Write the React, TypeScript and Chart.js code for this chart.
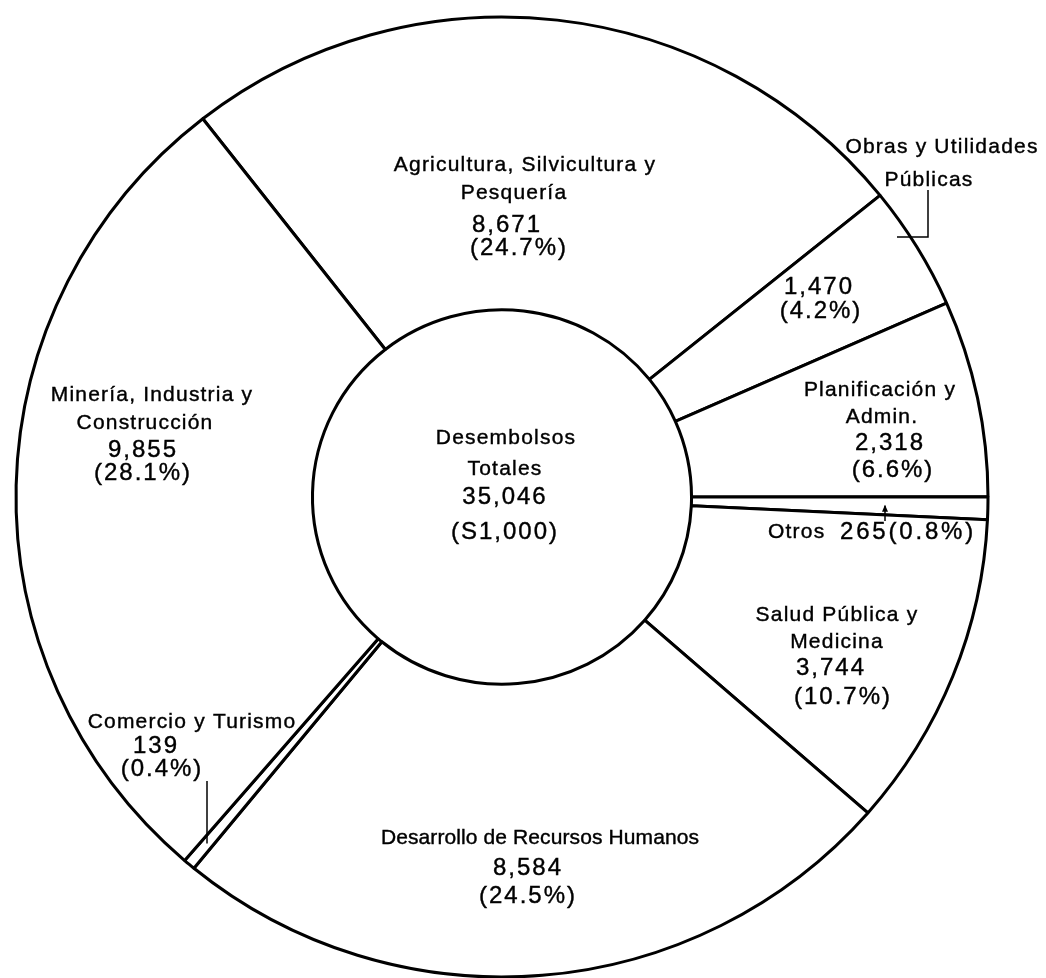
import { useEffect, useRef } from "react";
import { Chart, registerables } from "chart.js";

Chart.register(...registerables);

// ---- data ----
const categories = [
  "Agricultura, Silvicultura y Pesquería",
  "Obras y Utilidades Públicas",
  "Planificación y Admin.",
  "Otros",
  "Salud Pública y Medicina",
  "Desarrollo de Recursos Humanos",
  "Comercio y Turismo",
  "Minería, Industria y Construcción",
];
const nameLines = [
  ["Agricultura, Silvicultura y", "Pesquería"],
  ["Obras y Utilidades", "Públicas"],
  ["Planificación y", "Admin."],
  ["Otros"],
  ["Salud Pública y", "Medicina"],
  ["Desarrollo de Recursos Humanos"],
  ["Comercio y Turismo"],
  ["Minería, Industria y", "Construcción"],
];
const values = [8671, 1470, 2318, 265, 3744, 8584, 139, 9855];
const valueLabels = ["8,671", "1,470", "2,318", "265", "3,744", "8,584", "139", "9,855"];
const percentLabels = ["(24.7%)", "(4.2%)", "(6.6%)", "(0.8%)", "(10.7%)", "(24.5%)", "(0.4%)", "(28.1%)"];
const centerLines = ["Desembolsos", "Totales", "35,046", "(S1,000)"];

// ---- label layout (text line anchors: names..., value, percent) ----
const labelLayout: Record<number, [number, number][]> = {
  0: [[525, 165], [514, 193], [507, 225], [519, 248]],
  1: [[942, 147], [929, 180], [819, 287], [821, 311]],
  2: [[880, 390], [882, 417], [890, 443], [893, 470]],
  4: [[837, 615], [837, 642], [831, 668], [843, 697]],
  5: [[540, 838], [528, 868], [528, 896]],
  6: [[192, 722], [156, 746], [162, 769]],
  7: [[152, 395], [145, 423], [143, 450], [143, 473]],
};
const nameSpacing: Record<number, number> = { 5: 0.1 };
const centerLayout: [number, number][] = [[506, 438], [505, 469], [505, 497], [505, 532]];

const SX = 1.0125; // the printed ring is slightly wider than tall

const FONT_NAME = "21px 'Liberation Sans', Arial, sans-serif";
const FONT_NUM = "24px 'Liberation Sans', Arial, sans-serif";

function drawText(
  ctx: CanvasRenderingContext2D,
  text: string,
  x: number,
  y: number,
  num: boolean,
  align: CanvasTextAlign = "center",
  spacing?: number
) {
  ctx.font = num ? FONT_NUM : FONT_NAME;
  const sp = spacing !== undefined ? spacing : num ? 2 : 1.2;
  (ctx as any).letterSpacing = sp + "px";
  ctx.textAlign = align;
  ctx.textBaseline = "middle";
  ctx.lineWidth = 0.4;
  ctx.fillText(text, x, y);
  ctx.strokeText(text, x, y);
}

function rayYAtX(arc: any, x: number) {
  const p = arc.getProps(["x", "y", "startAngle", "endAngle"], true);
  const mid = (p.startAngle + p.endAngle) / 2;
  const xu = p.x + (x - p.x) / SX;
  const r = (xu - p.x) / Math.cos(mid);
  return p.y + r * Math.sin(mid);
}

const stretchPlugin = {
  id: "stretch",
  beforeDatasetsDraw(chart: any) {
    const ctx = chart.ctx;
    const cx = (chart.chartArea.left + chart.chartArea.right) / 2;
    ctx.save();
    ctx.translate(cx, 0);
    ctx.scale(SX, 1);
    ctx.translate(-cx, 0);
  },
  afterDatasetsDraw(chart: any) {
    chart.ctx.restore();
  },
};

const labelPlugin = {
  id: "sectorLabels",
  afterDraw(chart: any) {
    const ctx: CanvasRenderingContext2D = chart.ctx;
    const meta = chart.getDatasetMeta(0);
    ctx.save();
    ctx.fillStyle = "#000";
    ctx.strokeStyle = "#000";

    Object.keys(labelLayout).forEach((k) => {
      const i = Number(k);
      const pos = labelLayout[i];
      const lines = nameLines[i];
      lines.forEach((t, j) => drawText(ctx, t, pos[j][0], pos[j][1], false, "center", nameSpacing[i]));
      const vi = lines.length;
      drawText(ctx, valueLabels[i], pos[vi][0], pos[vi][1], true);
      drawText(ctx, percentLabels[i], pos[vi + 1][0], pos[vi + 1][1], true);
    });

    // Otros (single line)
    drawText(ctx, nameLines[3][0], 768, 532, false, "left");
    drawText(ctx, valueLabels[3] + percentLabels[3], 976, 532, true, "right", 2.8);

    // center
    centerLines.forEach((t, j) => drawText(ctx, t, centerLayout[j][0], centerLayout[j][1], j === 2 || j === 3));

    // leader lines
    ctx.lineWidth = 1.5;
    // Obras bracket
    ctx.beginPath();
    ctx.moveTo(928, 190);
    ctx.lineTo(928, 237);
    ctx.lineTo(897, 237);
    ctx.stroke();
    // Otros tick
    const yOtros = rayYAtX(meta.data[3], 885);
    ctx.beginPath();
    ctx.moveTo(885, yOtros);
    ctx.lineTo(885, 521);
    ctx.stroke();
    ctx.beginPath();
    ctx.moveTo(885, yOtros - 1);
    ctx.lineTo(882, yOtros + 6);
    ctx.lineTo(888, yOtros + 6);
    ctx.closePath();
    ctx.fill();
    // Comercio leader
    const yCom = rayYAtX(meta.data[6], 207);
    ctx.beginPath();
    ctx.moveTo(207, 781);
    ctx.lineTo(207, yCom);
    ctx.stroke();

    ctx.restore();
  },
};

export default function App() {
  const ref = useRef<HTMLCanvasElement | null>(null);
  useEffect(() => {
    if (!ref.current) return;
    const chart = new Chart(ref.current, {
      type: "doughnut",
      data: {
        labels: categories,
        datasets: [
          {
            data: values,
            backgroundColor: "#ffffff",
            borderColor: "#000000",
            borderWidth: 3,
            hoverOffset: 0,
          },
        ],
      },
      options: {
        animation: false,
        responsive: false,
        radius: 480,
        cutout: 187,
        rotation: -38,
        layout: { padding: { left: 0, right: 42, top: 16, bottom: 0 } },
        plugins: {
          legend: { display: false },
          tooltip: { enabled: false },
        },
        events: [],
      } as any,
      plugins: [stretchPlugin, labelPlugin],
    });
    return () => chart.destroy();
  }, []);
  return (
    <div style={{ position: "absolute", left: 0, top: 0, width: 1046, height: 978, background: "#fff" }}>
      <canvas ref={ref} width={1046} height={978} style={{ display: "block" }} />
    </div>
  );
}
